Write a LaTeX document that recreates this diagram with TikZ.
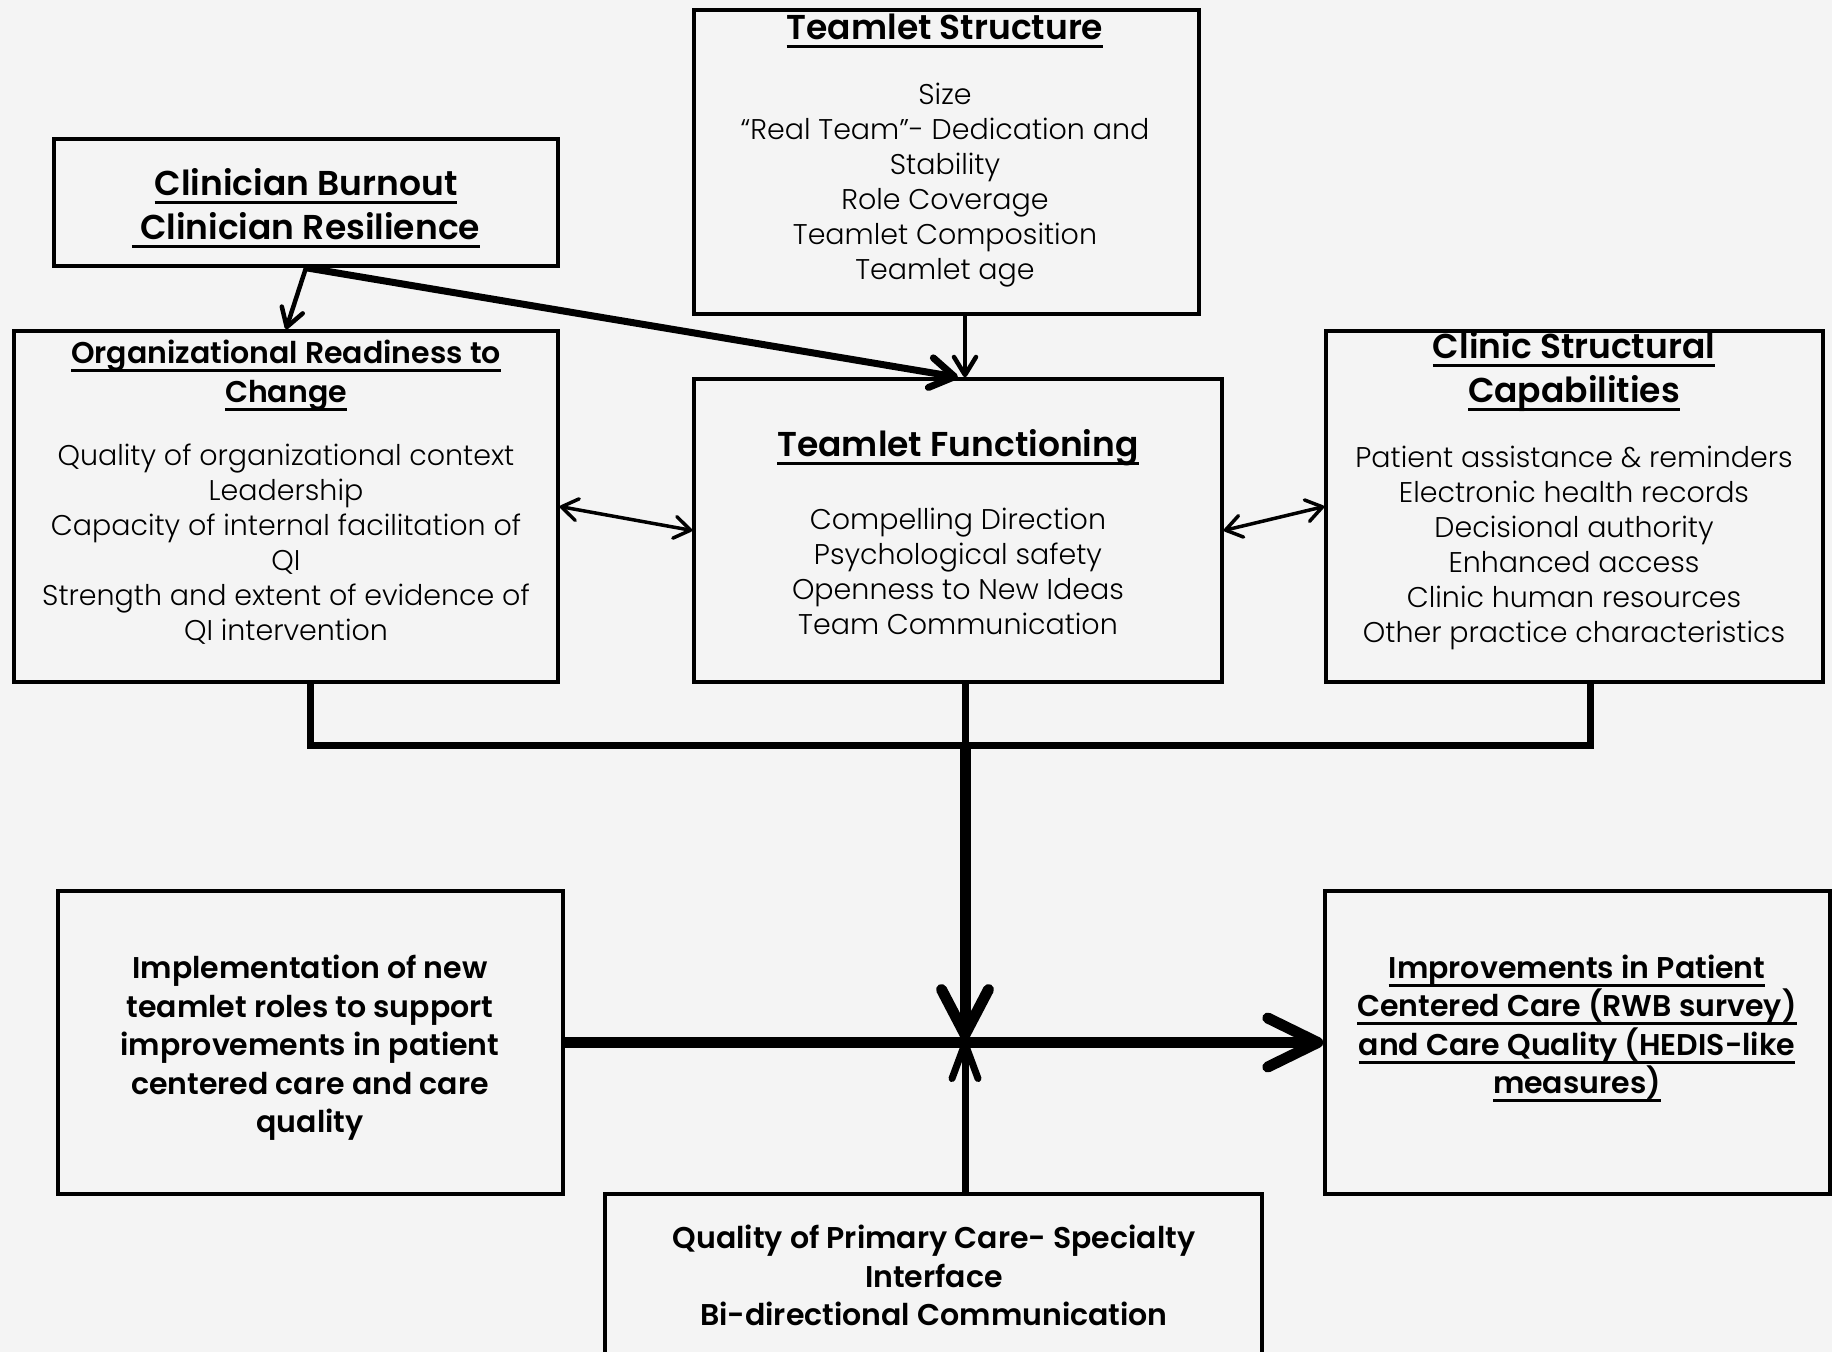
\documentclass[tikz,border=0pt]{standalone}
\usepackage{fontspec}
\setmainfont{Poppins}[UprightFont={* Light},BoldFont={* SemiBold}]
\usetikzlibrary{arrows.meta}
\definecolor{paper}{HTML}{F4F4F4}
\newcommand\undr[1]{\setbox0\hbox{#1}\rlap{\rule[-8.5pt]{\wd0}{3.2pt}}\box0}
\begin{document}
\begin{tikzpicture}[x=1pt, y=-1pt,
  box/.style={draw, line width=3.5pt},
  body/.style={align=center, font=\fontsize{28.5}{35}\selectfont},
  head/.style={align=center, font=\bfseries\fontsize{34.5}{44}\selectfont},
  subhead/.style={align=center, font=\bfseries\fontsize{30}{38.5}\selectfont},
  bold/.style={align=center, font=\bfseries\fontsize{30}{38.5}\selectfont},
  link/.style={line width=4.5pt, -{Straight Barb[round,length=18pt,width=22pt]}},
  twoway/.style={line width=3.5pt,
    {Straight Barb[round,length=16pt,width=22pt]}-{Straight Barb[round,length=16pt,width=22pt]}},
  bus/.style={line width=7pt}]
  \useasboundingbox (0,0) rectangle (1832,1352);
  \clip (0,0) rectangle (1832,1352);
  \fill[paper] (0,0) rectangle (1832,1352);

  \node[box, minimum width=505pt, minimum height=304pt] (tstruct) at (946.5,162) {};
  \node[box, minimum width=504pt, minimum height=127pt] (burn) at (306,202.5) {};
  \node[box, minimum width=544pt, minimum height=351pt] (ready) at (286,506.5) {};
  \node[box, minimum width=528pt, minimum height=303pt] (tfunc) at (958,530.5) {};
  \node[box, minimum width=497pt, minimum height=351pt] (clinic) at (1574.5,506.5) {};
  \node[box, minimum width=505pt, minimum height=303pt] (impl) at (310.5,1042.5) {};
  \node[box, minimum width=505pt, minimum height=303pt] (improve) at (1577.5,1042.5) {};
  \node[box, minimum width=657pt, minimum height=200pt] (quality) at (933.5,1294) {};

  \node[head] (tstructT) at (945,31) {\undr{Teamlet Structure}};
  \node[body] (tstructB) at (945,185.5) {Size\\“Real Team”- Dedication and\\Stability\\Role Coverage\\Teamlet Composition\\Teamlet age};
  \node[head] (burnT) at (306,208) {\undr{Clinician Burnout}\\\undr{\ Clinician Resilience}};
  \node[subhead] (readyT) at (286,375.5) {\undr{Organizational Readiness to}\\\undr{Change}};
  \node[body] (readyB) at (286,544.5) {Quality of organizational context\\Leadership\\Capacity of internal facilitation of\\QI\\Strength and extent of evidence of\\QI intervention};
  \node[head] (tfuncT) at (958,447.5) {\undr{Teamlet Functioning}};
  \node[body] (tfuncB) at (958,571.5) {Compelling Direction\\Psychological safety\\Openness to New Ideas\\Team Communication};
  \node[head] (clinicT) at (1574,372) {\undr{Clinic Structural}\\\undr{Capabilities}};
  \node[body] (clinicB) at (1574,548) {Patient assistance \& reminders\\Electronic health records\\Decisional authority\\Enhanced access\\Clinic human resources\\Other practice characteristics};
  \node[bold] (implT) at (310,1048) {Implementation of new\\teamlet roles to support\\improvements in patient\\centered care and care\\quality};
  \node[bold] (improveT) at (1577,1028.5) {\undr{Improvements in Patient}\\\undr{Centered Care (RWB survey)}\\\undr{and Care Quality (HEDIS-like}\\\undr{measures)}};
  \node[bold] (qualityT) at (934,1275.5) {Quality of Primary Care- Specialty\\Interface\\Bi-directional Communication};

  \coordinate (hub) at (965,1040);
  \coordinate (busL) at (310,745);
  \coordinate (busR) at (1590,745);
  \draw[link] (burn.south) -- (ready.north);
  \draw[link, line width=7pt, -{Straight Barb[round,length=24pt,width=30pt]}] (burn.south) -- (tfunc.north);
  \draw[link] (hub |- tstruct.south) -- (hub |- tfunc.north);
  \draw[twoway] (ready.east) -- (tfunc.west);
  \draw[twoway] (tfunc.east) -- (clinic.west);
  \draw[bus] (busL |- ready.south) -- (busL) -- (busR) -- (busR |- clinic.south);
  \draw[bus] (hub |- tfunc.south) -- (hub |- busL);
  \draw[line width=11pt, -{Straight Barb[round,length=45pt,width=47pt]}] (hub |- busL) -- (hub);
  \draw[line width=11pt, -{Straight Barb[round,length=50pt,width=49pt]}] (impl.east) -- (improve.west);
  \draw[line width=7pt, -{Straight Barb[round,length=35pt,width=26pt]}] (hub |- quality.north) -- (hub);
\end{tikzpicture}
\end{document}
